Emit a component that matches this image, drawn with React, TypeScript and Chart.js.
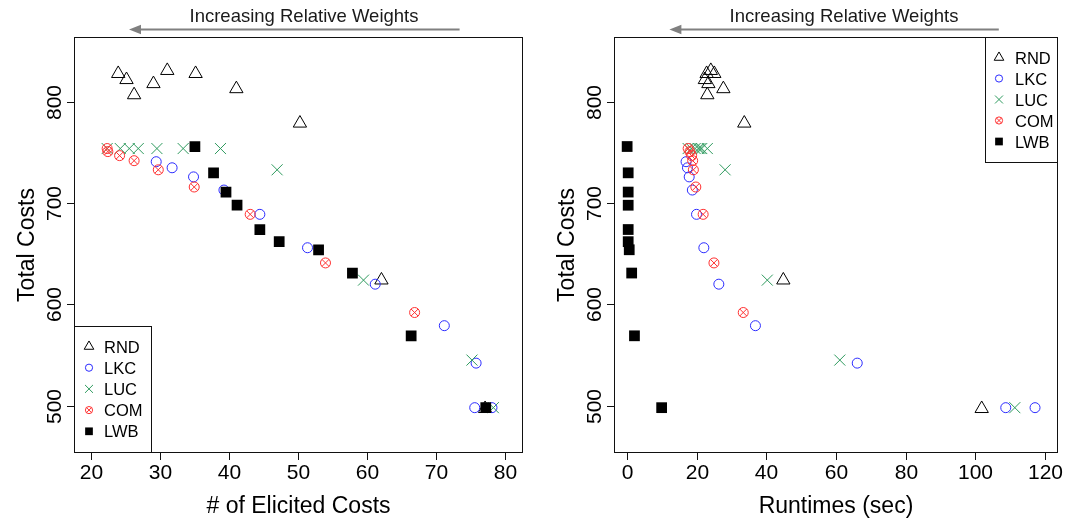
import React, { useEffect, useRef } from 'react';
import { Chart, registerables } from 'chart.js';

Chart.register(...registerables);

// ---------------- data ----------------
const seriesNames = ['RND', 'LKC', 'LUC', 'COM', 'LWB'];

const rndCosts = [828, 822, 807, 818, 831, 828, 813, 779, 624, 497];
const rndElicited = [24.0, 25.2, 26.3, 29.1, 31.1, 35.2, 41.1, 50.3, 62.1, 77.1];
const rndRuntime = [22.9, 22.4, 23.1, 23.4, 24.1, 25.1, 27.7, 33.7, 44.9, 101.8];

const lkcCosts = [741, 735, 726, 713, 689, 656, 620, 579, 542, 498, 498];
const lkcElicited = [29.5, 31.8, 34.9, 39.3, 44.5, 51.4, 61.2, 71.2, 75.8, 75.6, 78.1];
const lkcRuntime = [17.0, 17.4, 17.9, 18.8, 20.0, 22.1, 26.4, 36.9, 66.1, 108.7, 117.1];

const lucCosts = [754, 754, 754, 754, 754, 754, 754, 733, 624, 545, 498];
const lucElicited = [22.4, 24.3, 25.6, 26.9, 29.6, 33.4, 38.8, 47.0, 59.5, 75.2, 78.3];
const lucRuntime = [17.6, 18.5, 19.6, 20.5, 21.0, 21.5, 23.1, 28.2, 40.3, 61.1, 111.3];

const comCosts = [754, 751, 747, 742, 733, 716, 689, 641, 592];
const comElicited = [22.4, 22.5, 24.2, 26.3, 29.8, 35.0, 43.1, 54.0, 66.9];
const comRuntime = [17.6, 18.1, 18.6, 18.9, 19.1, 19.8, 21.9, 25.0, 33.4];

const lwbCosts = [756, 730, 711, 698, 674, 662, 654, 631, 569, 498];
const lwbElicited = [35.1, 37.8, 39.6, 41.2, 44.5, 47.3, 53.0, 57.9, 66.4, 77.2];
const lwbRuntime = [0.1, 0.4, 0.4, 0.4, 0.4, 0.4, 0.7, 1.4, 2.2, 10.0];

const xTicksElicited = [20, 30, 40, 50, 60, 70, 80];
const xTicksRuntime = [0, 20, 40, 60, 80, 100, 120];
const yTicksCosts = [500, 600, 700, 800];

const headerText = 'Increasing Relative Weights';
const yTitleText = 'Total Costs';
const xTitleLeft = '# of Elicited Costs';
const xTitleRight = 'Runtimes (sec)';

// ---------------- styles ----------------
const FONT = '"Liberation Sans", Arial, Helvetica, sans-serif';
const COL = {
  RND: '#000000',
  LKC: '#2b2bff',
  LUC: '#2e9a5e',
  COM: '#ff3030',
  LWB: '#000000',
};

function pts(x: number[], y: number[]) {
  return x.map((v, i) => ({ x: v, y: y[i] }));
}

function buildDatasets(xs: { RND: number[]; LKC: number[]; LUC: number[]; COM: number[]; LWB: number[] }) {
  const base = { showLine: false, pointBorderWidth: 1, pointHoverRadius: 0 } as any;
  return [
    { ...base, label: 'RND', data: pts(xs.RND, rndCosts), pointStyle: 'triangle', pointRadius: 7.7, pointBorderColor: COL.RND, pointBackgroundColor: 'rgba(0,0,0,0)', order: 6 },
    { ...base, label: 'LKC', data: pts(xs.LKC, lkcCosts), pointStyle: 'circle', pointRadius: 5, pointBorderColor: COL.LKC, pointBackgroundColor: 'rgba(0,0,0,0)', order: 5 },
    { ...base, label: 'LUC', data: pts(xs.LUC, lucCosts), pointStyle: 'crossRot', pointRadius: 7.8, pointBorderColor: COL.LUC, pointBackgroundColor: 'rgba(0,0,0,0)', order: 4 },
    { ...base, label: 'COM', data: pts(xs.COM, comCosts), pointStyle: 'circle', pointRadius: 5, pointBorderColor: COL.COM, pointBackgroundColor: 'rgba(0,0,0,0)', order: 3 },
    { ...base, label: 'COM-x', data: pts(xs.COM, comCosts), pointStyle: 'crossRot', pointRadius: 5, pointBorderColor: COL.COM, pointBackgroundColor: 'rgba(0,0,0,0)', order: 2 },
    { ...base, label: 'LWB', data: pts(xs.LWB, lwbCosts), pointStyle: 'rect', pointRadius: 7.6, pointBorderColor: COL.LWB, pointBackgroundColor: COL.LWB, pointBorderWidth: 0, order: 1 },
  ];
}

function drawSymbol(ctx: CanvasRenderingContext2D, name: string, x: number, y: number, k: number) {
  ctx.save();
  ctx.lineWidth = 1;
  if (name === 'RND') {
    const r = 7.7 * k;
    ctx.strokeStyle = COL.RND;
    ctx.beginPath();
    ctx.moveTo(x, y - r);
    ctx.lineTo(x + 0.866 * r, y + 0.5 * r);
    ctx.lineTo(x - 0.866 * r, y + 0.5 * r);
    ctx.closePath();
    ctx.stroke();
  } else if (name === 'LKC') {
    ctx.strokeStyle = COL.LKC;
    ctx.beginPath();
    ctx.arc(x, y, 5 * k, 0, Math.PI * 2);
    ctx.stroke();
  } else if (name === 'LUC') {
    const h = 7.8 * k * Math.SQRT1_2;
    ctx.strokeStyle = COL.LUC;
    ctx.beginPath();
    ctx.moveTo(x - h, y - h); ctx.lineTo(x + h, y + h);
    ctx.moveTo(x - h, y + h); ctx.lineTo(x + h, y - h);
    ctx.stroke();
  } else if (name === 'COM') {
    const r = 5 * k;
    const h = r * Math.SQRT1_2;
    ctx.strokeStyle = COL.COM;
    ctx.beginPath();
    ctx.arc(x, y, r, 0, Math.PI * 2);
    ctx.moveTo(x - h, y - h); ctx.lineTo(x + h, y + h);
    ctx.moveTo(x - h, y + h); ctx.lineTo(x + h, y - h);
    ctx.stroke();
  } else if (name === 'LWB') {
    const s = 10.7 * k;
    ctx.fillStyle = COL.LWB;
    ctx.fillRect(x - s / 2, y - s / 2, s, s);
  }
  ctx.restore();
}

type PanelCfg = {
  key: string;
  xTicks: number[];
  xTitle: string;
  headerX: number;
  arrowFrom: number;
  arrowTo: number;
  legend: { x1: number; y1: number; x2: number | null; y2: number | null; y0: number; step: number; symX: number; textX: number };
};

function decorPlugin(cfg: PanelCfg) {
  return {
    id: 'decor' + cfg.key,
    afterDraw(chart: any) {
      const ctx: CanvasRenderingContext2D = chart.ctx;
      const a = chart.chartArea;
      const sx = chart.scales.x;
      const sy = chart.scales.y;
      const L = Math.round(a.left) + 0.5;
      const R = Math.round(a.right) + 0.5;
      const T = Math.round(a.top) + 0.5;
      const B = Math.round(a.bottom) + 0.5;
      ctx.save();
      ctx.strokeStyle = '#111';
      ctx.lineWidth = 1;
      ctx.strokeRect(L, T, R - L, B - T);

      // x ticks
      ctx.fillStyle = '#000';
      ctx.font = `21px ${FONT}`;
      ctx.textAlign = 'center';
      ctx.textBaseline = 'alphabetic';
      cfg.xTicks.forEach((v) => {
        const px = Math.round(sx.getPixelForValue(v)) + 0.5;
        ctx.beginPath();
        ctx.moveTo(px, B);
        ctx.lineTo(px, B + 7.5);
        ctx.stroke();
        ctx.fillText(String(v), px, B + 26);
      });
      // y ticks
      yTicksCosts.forEach((v) => {
        const py = Math.round(sy.getPixelForValue(v)) + 0.5;
        ctx.beginPath();
        ctx.moveTo(L, py);
        ctx.lineTo(L - 7.5, py);
        ctx.stroke();
        ctx.save();
        ctx.translate(L - 14, py);
        ctx.rotate(-Math.PI / 2);
        ctx.fillText(String(v), 0, 0);
        ctx.restore();
      });

      // titles
      ctx.font = `23px ${FONT}`;
      ctx.fillText(cfg.xTitle, (L + R) / 2, B + 60);
      ctx.save();
      ctx.translate(L - 41, (T + B) / 2);
      ctx.rotate(-Math.PI / 2);
      ctx.fillText(yTitleText, 0, 0);
      ctx.restore();

      // header + arrow
      ctx.font = `18.5px ${FONT}`;
      ctx.fillStyle = '#1a1a1a';
      ctx.fillText(headerText, cfg.headerX, 21.5);
      ctx.strokeStyle = '#808080';
      ctx.fillStyle = '#808080';
      ctx.lineWidth = 2;
      ctx.beginPath();
      ctx.moveTo(cfg.arrowFrom, 29.5);
      ctx.lineTo(cfg.arrowTo + 8, 29.5);
      ctx.stroke();
      ctx.beginPath();
      ctx.moveTo(cfg.arrowTo, 29.5);
      ctx.lineTo(cfg.arrowTo + 12, 24.7);
      ctx.lineTo(cfg.arrowTo + 12, 34.3);
      ctx.closePath();
      ctx.fill();

      // legend
      const lg = cfg.legend;
      const x2 = lg.x2 === null ? R : lg.x2;
      const y2 = lg.y2 === null ? B : lg.y2;
      ctx.strokeStyle = '#111';
      ctx.lineWidth = 1;
      ctx.strokeRect(lg.x1, lg.y1, x2 - lg.x1, y2 - lg.y1);
      ctx.font = `16.5px ${FONT}`;
      ctx.fillStyle = '#000';
      ctx.textAlign = 'left';
      seriesNames.forEach((n, i) => {
        const y = lg.y0 + i * lg.step;
        drawSymbol(ctx, n, lg.symX, y, 0.72);
        ctx.fillText(n, lg.textX, y + 6);
      });
      ctx.restore();
    },
  };
}

function Panel(props: {
  offset: number;
  width: number;
  xmin: number;
  xmax: number;
  padLeft: number;
  padRight: number;
  xs: any;
  cfg: PanelCfg;
}) {
  const ref = useRef<HTMLCanvasElement>(null);
  useEffect(() => {
    const chart = new Chart(ref.current as HTMLCanvasElement, {
      type: 'scatter',
      data: { datasets: buildDatasets(props.xs) as any },
      options: {
        animation: false,
        responsive: false,
        maintainAspectRatio: false,
        events: [],
        layout: { padding: { left: props.padLeft, right: props.padRight, top: 37, bottom: 69 } },
        scales: {
          x: { type: 'linear', min: props.xmin, max: props.xmax, display: false },
          y: { type: 'linear', min: 454.2, max: 864.2, display: false },
        },
        plugins: { legend: { display: false }, tooltip: { enabled: false } },
      },
      plugins: [decorPlugin(props.cfg)],
    });
    return () => chart.destroy();
  }, []);
  return (
    <canvas
      ref={ref}
      width={props.width}
      height={521}
      style={{ position: 'absolute', left: props.offset, top: 0, width: props.width, height: 521 }}
    />
  );
}

export default function App() {
  return (
    <div style={{ position: 'fixed', left: 0, top: 0, width: 1067, height: 521, background: '#ffffff', overflow: 'hidden' }}>
      <Panel
        offset={0}
        width={540}
        xmin={17.6}
        xmax={82.4}
        padLeft={74}
        padRight={18.3}
        xs={{ RND: rndElicited, LKC: lkcElicited, LUC: lucElicited, COM: comElicited, LWB: lwbElicited }}
        cfg={{
          key: 'L',
          xTicks: xTicksElicited,
          xTitle: xTitleLeft,
          headerX: 304,
          arrowFrom: 459.6,
          arrowTo: 129,
          legend: { x1: 74.5, y1: 326.5, x2: 151.5, y2: null, y0: 346.5, step: 21.2, symX: 89, textX: 104 },
        }}
      />
      <Panel
        offset={540}
        width={527}
        xmin={-3.67}
        xmax={123.4}
        padLeft={74}
        padRight={10}
        xs={{ RND: rndRuntime, LKC: lkcRuntime, LUC: lucRuntime, COM: comRuntime, LWB: lwbRuntime }}
        cfg={{
          key: 'R',
          xTicks: xTicksRuntime,
          xTitle: xTitleRight,
          headerX: 304,
          arrowFrom: 458.8,
          arrowTo: 129.4,
          legend: { x1: 445.5, y1: 37.5, x2: null, y2: 162.5, y0: 57.5, step: 21, symX: 459, textX: 475 },
        }}
      />
    </div>
  );
}
